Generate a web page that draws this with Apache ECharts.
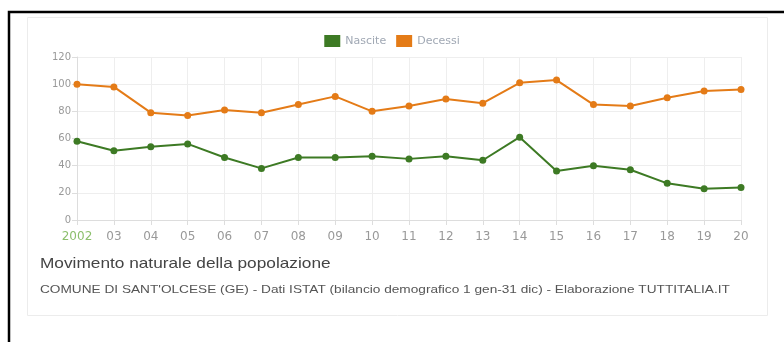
<!DOCTYPE html>
<html>
<head>
<meta charset="utf-8">
<script src="https://cdn.jsdelivr.net/npm/echarts@6/dist/echarts.min.js"></script>
<style>
html,body{margin:0;padding:0;background:#fff;}
#c{position:absolute;left:0;top:0;width:784px;height:342px;}
</style>
</head>
<body>
<div id="c"></div>
<script>
const categories = ['2002','03','04','05','06','07','08','09','10','11','12','13','14','15','16','17','18','19','20'];
const nascite = [58,51,54,56,46,38,46,46,47,45,47,44,61,36,40,37,27,23,24];
const decessi = [100,98,79,77,81,79,85,91,80,84,89,86,101,103,85,84,90,95,96];
const yTicks = {min:0, max:120, interval:20};

const chart = echarts.init(document.getElementById('c'), null, {renderer:'canvas'});
chart.setOption({
  animation:false,
  backgroundColor:'#fff',
  graphic:[
    {type:'rect', shape:{x:9, y:12, width:800, height:400}, style:{fill:'none', stroke:'#000', lineWidth:2.5}, z:-10},
    {type:'rect', shape:{x:27.5, y:17.5, width:740, height:298}, style:{fill:'#fff', stroke:'#ececec', lineWidth:1}, z:-9},
    {type:'text', x:40, y:256, scaleX:1.15, style:{text:'Movimento naturale della popolazione', fill:'#444', font:'15px "Liberation Sans", Arial, sans-serif'}},
    {type:'text', x:40, y:285, scaleX:1.3, style:{text:"COMUNE DI SANT'OLCESE (GE) - Dati ISTAT (bilancio demografico 1 gen-31 dic) - Elaborazione TUTTITALIA.IT", fill:'#555', font:'10.5px "Liberation Sans", Arial, sans-serif'}}
  ],
  legend:{
    top:30, left:'center', itemWidth:16, itemHeight:12, itemGap:10, icon:'rect',
    textStyle:{color:'#a0a8b4', fontSize:11, fontFamily:'"DejaVu Sans", sans-serif'},
    data:['Nascite','Decessi']
  },
  grid:{left:77, right:43, top:57, bottom:122},
  xAxis:{
    type:'category', data:categories, boundaryGap:false,
    axisLine:{lineStyle:{color:'#ddd'}},
    axisTick:{show:true, alignWithLabel:true, lineStyle:{color:'#ddd'}},
    splitLine:{show:true, lineStyle:{color:'#eee'}},
    axisLabel:{
      interval:0,
      color:'#999', fontSize:12, margin:11, fontFamily:'"DejaVu Sans", sans-serif',
      formatter:function(v,i){ return i===0 ? '{g|'+v+'}' : v; },
      rich:{g:{color:'#8cbf6c', fontSize:12, fontFamily:'"DejaVu Sans", sans-serif'}}
    }
  },
  yAxis:{
    type:'value', min:yTicks.min, max:yTicks.max, interval:yTicks.interval,
    axisLine:{show:true, lineStyle:{color:'#ddd'}},
    axisTick:{show:true, lineStyle:{color:'#ddd'}},
    splitLine:{lineStyle:{color:'#eee'}},
    axisLabel:{color:'#999', fontSize:10, margin:6, fontFamily:'"DejaVu Sans", sans-serif'}
  },
  series:[
    {name:'Nascite', type:'line', data:nascite, symbol:'circle', symbolSize:7,
     itemStyle:{color:'#3d7a24'}, lineStyle:{color:'#3d7a24', width:2}},
    {name:'Decessi', type:'line', data:decessi, symbol:'circle', symbolSize:7,
     itemStyle:{color:'#e47b17'}, lineStyle:{color:'#e47b17', width:2}}
  ]
});
</script>
</body>
</html>
